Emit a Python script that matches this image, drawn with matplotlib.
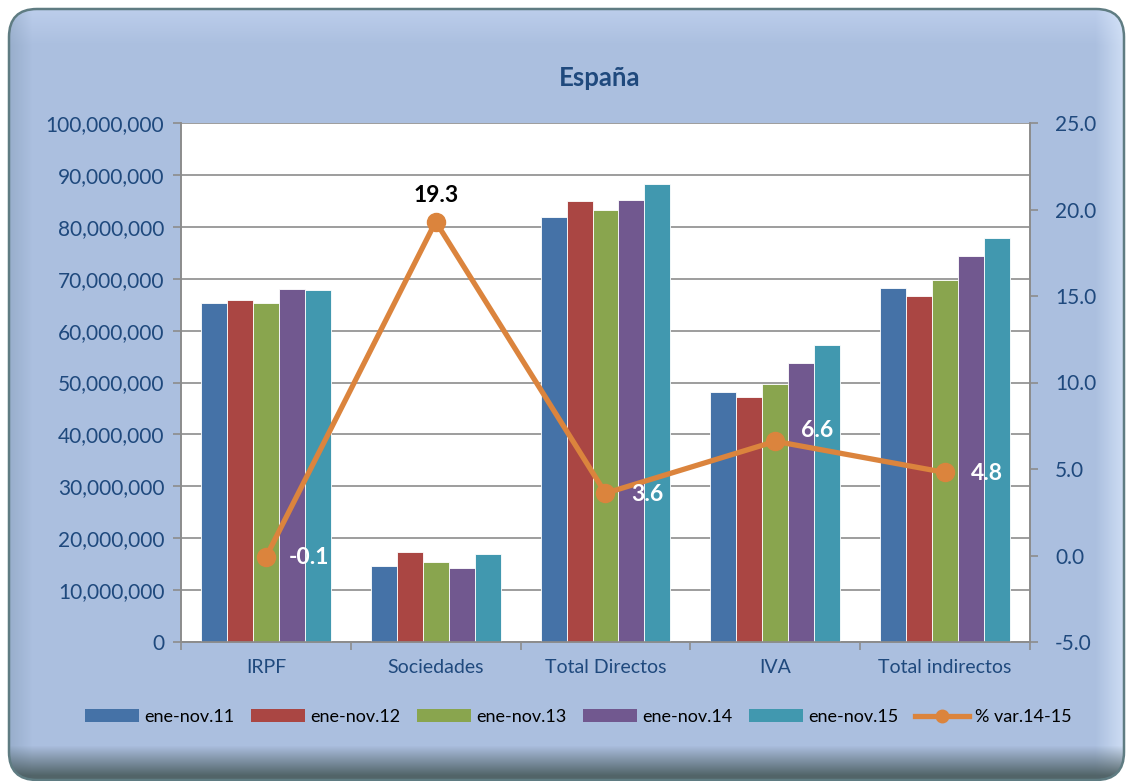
import numpy as np
import matplotlib
matplotlib.use('Agg')
import matplotlib.pyplot as plt
from matplotlib.patches import FancyBboxPatch
from matplotlib.lines import Line2D
from matplotlib.patches import Patch

plt.rcParams['font.family'] = ['Lato', 'DejaVu Sans']

# data
categories = ['IRPF', 'Sociedades', 'Total Directos', 'IVA', 'Total indirectos']
series_names = ['ene-nov.11', 'ene-nov.12', 'ene-nov.13', 'ene-nov.14', 'ene-nov.15']
v11 = [65300000, 14700000, 81800000, 48200000, 68300000]
v12 = [65900000, 17300000, 85000000, 47200000, 66700000]
v13 = [65300000, 15400000, 83200000, 49800000, 69800000]
v14 = [68000000, 14200000, 85100000, 53700000, 74300000]
v15 = [67900000, 17000000, 88200000, 57300000, 77900000]
var_name = '% var.14-15'
var_1415 = [-0.1, 19.3, 3.6, 6.6, 4.8]

colors = ['#4572A7', '#AA4643', '#89A54E', '#71588F', '#4198AF']
orange = '#DB843D'
navy = '#1F497D'
grid_c = '#8C8C8C'

W, H = 1131, 781
fig = plt.figure(figsize=(W / 100, H / 100), dpi=100)
fig.patch.set_facecolor('white')

# background panel with bevel-ish shading
bg = fig.add_axes([0, 0, 1, 1], zorder=-5)
bg.set_xlim(0, W)
bg.set_ylim(H, 0)
bg.axis('off')
base = np.array([171, 191, 223]) / 255.0
img = np.ones((H, W, 3)) * base
yy, xx = np.mgrid[0:H, 0:W]
# top highlight
t = np.clip((45 - yy) / 35.0, 0, 1)[..., None]
img = img * (1 - t * 0.5) + np.array([0.80, 0.86, 0.97]) * t * 0.5
# left darker bevel
t = np.clip((32 - xx) / 24.0, 0, 1)[..., None]
img = img * (1 - t * 0.35) + np.array([0.45, 0.55, 0.65]) * t * 0.35
# right light bevel
t = np.clip((xx - 1095) / 30.0, 0, 1)[..., None]
img = img * (1 - t * 0.7) + np.array([0.88, 0.93, 1.0]) * t * 0.7
# bottom dark shadow
t = np.clip((yy - 745) / 30.0, 0, 1)[..., None]
img = img * (1 - t * 0.85) + np.array([0.26, 0.33, 0.33]) * t * 0.85
im = bg.imshow(img, extent=(0, W, H, 0), aspect='auto')
box = FancyBboxPatch((9, 9), W - 16, H - 10, boxstyle='round,pad=0,rounding_size=28',
                     facecolor='none', edgecolor='#5F7C82', lw=1.8, transform=bg.transData)
bg.add_patch(box)
im.set_clip_path(box)

# main axes
ax = fig.add_axes([181 / W, 1 - 642 / H, (1030 - 181) / W, (642 - 123) / H])
ax.set_facecolor('white')
x = np.arange(len(categories))
w = 0.153
for j, (vals, name) in enumerate(zip([v11, v12, v13, v14, v15], series_names)):
    ax.bar(x + (j - 2) * w, vals, width=w, color=colors[j], edgecolor='white',
           linewidth=0.6, label=name, zorder=3)

ax.set_xlim(-0.5, 4.5)
ax.set_ylim(0, 100000000)
ax.set_yticks(np.arange(0, 100000001, 10000000))
ax.yaxis.set_major_formatter(matplotlib.ticker.FuncFormatter(lambda v, p: '{:,.0f}'.format(v)))
ax.yaxis.grid(True, color=grid_c, lw=1.2)
ax.set_axisbelow(True)
ax.set_xticks(np.arange(-0.5, 5, 1))
ax.set_xticklabels([])
ax.set_xticks(x, minor=True)
ax.set_xticklabels(categories, minor=True)
ax.tick_params(axis='x', which='major', length=6, color=grid_c, width=1.2)
ax.tick_params(axis='x', which='minor', length=0, pad=12, labelsize=14, labelcolor=navy)
ax.tick_params(axis='y', length=6, color=grid_c, width=1.2, labelsize=15, labelcolor=navy, pad=6)
for s in ['left', 'bottom', 'right']:
    ax.spines[s].set_color(grid_c)
    ax.spines[s].set_linewidth(1.2)
ax.spines['top'].set_visible(False)

ax2 = ax.twinx()
ax2.plot(x, var_1415, color=orange, lw=3.8, marker='o', markersize=13, zorder=5,
         label=var_name)
ax2.set_ylim(-5, 25)
ax2.set_yticks(np.arange(-5, 25.1, 5))
ax2.yaxis.set_major_formatter(matplotlib.ticker.FormatStrFormatter('%.1f'))
ax2.tick_params(axis='y', length=6, color=grid_c, width=1.2, labelsize=15, labelcolor=navy, pad=12)
for s in ['left', 'bottom', 'right']:
    ax2.spines[s].set_color(grid_c)
    ax2.spines[s].set_linewidth(1.2)
ax2.spines['top'].set_visible(False)

offsets = [(31, 0), (0, 19), (30, -1), (30, 8), (30, -1)]
for i, v in enumerate(var_1415):
    col = 'black' if i == 1 else 'white'
    ax2.annotate('{:.1f}'.format(v), (x[i], v), xytext=offsets[i], textcoords='offset points',
                 ha='center', va='center', fontsize=16.5, fontweight='bold', color=col, zorder=6)

fig.text(600 / W, 1 - 78 / H, 'España', ha='center', va='center', fontsize=18.5,
         fontweight='bold', color=navy)

handles = [Patch(facecolor=colors[j], label=series_names[j]) for j in range(5)]
handles.append(Line2D([0], [0], color=orange, lw=3.8, marker='o', markersize=9, label=var_name))
fig.legend(handles=handles, loc='center', bbox_to_anchor=(578 / W, 1 - 717 / H), ncol=6,
           frameon=False, fontsize=13, handlelength=3.0, handleheight=0.7,
           columnspacing=0.9, handletextpad=0.3)

fig.savefig('out.png', dpi=100)
